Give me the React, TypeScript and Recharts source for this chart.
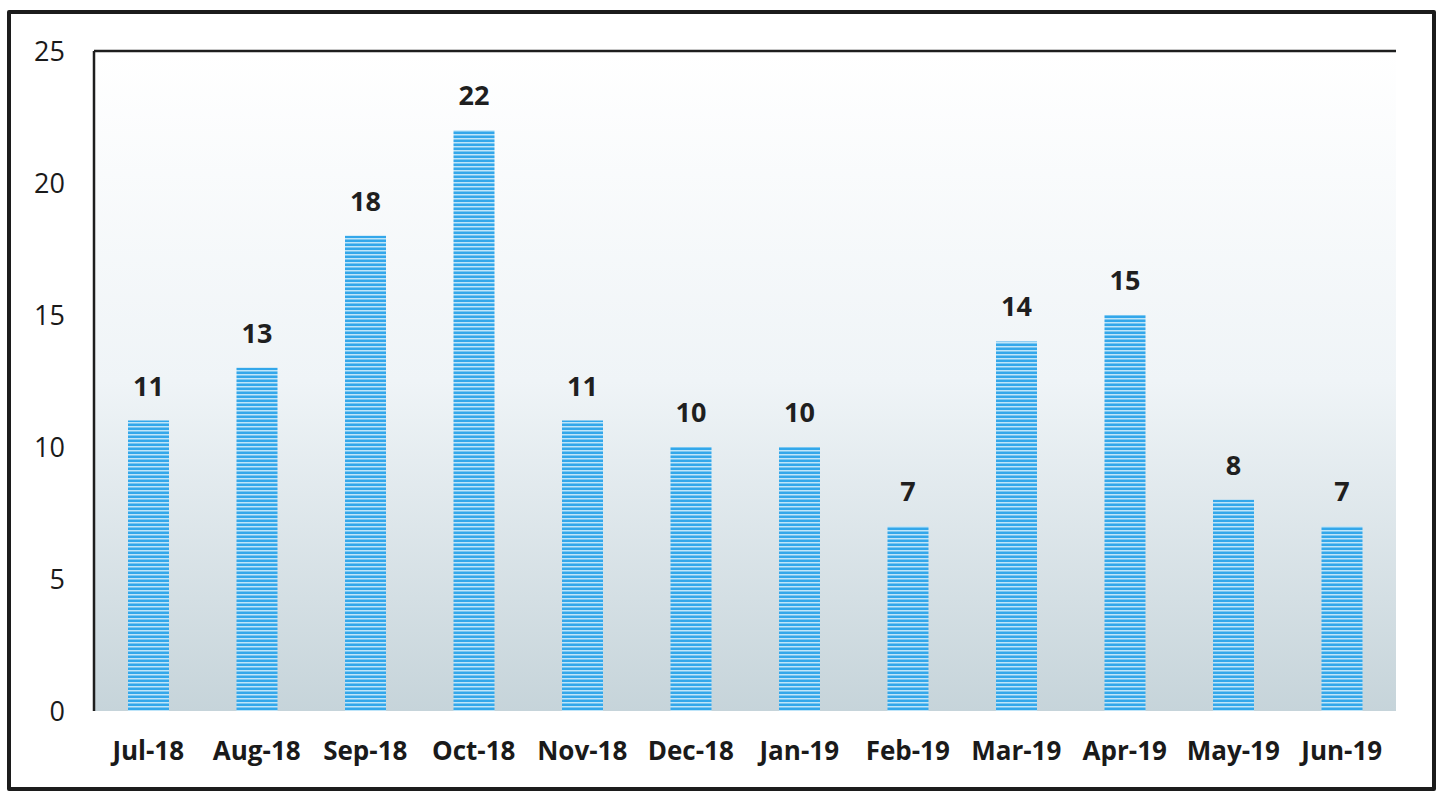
import React from 'react';
import { BarChart, Bar, XAxis, YAxis, CartesianGrid, LabelList, ReferenceLine } from 'recharts';

const months = ['Jul-18', 'Aug-18', 'Sep-18', 'Oct-18', 'Nov-18', 'Dec-18', 'Jan-19', 'Feb-19', 'Mar-19', 'Apr-19', 'May-19', 'Jun-19'];
const counts = [11, 13, 18, 22, 11, 10, 10, 7, 14, 15, 8, 7];
const yTicks = [0, 5, 10, 15, 20, 25];

const data = months.map((m, i) => ({ month: m, count: counts[i] }));

const FONT = '"Open Sans", "Liberation Sans", sans-serif';

export default function App() {
  return (
    <div style={{ position: 'absolute', left: 0, top: 0, width: 1442, height: 794, background: '#fff' }}>
      {/* outer frame */}
      <div
        style={{
          position: 'absolute',
          left: 7,
          top: 10,
          width: 1429,
          height: 781,
          boxSizing: 'border-box',
          border: '4px solid #1c1c1c',
          borderRadius: 2,
        }}
      />
      <div style={{ position: 'absolute', left: 0, top: 0 }}>
        <BarChart
          width={1442}
          height={794}
          data={data}
          margin={{ top: 51, right: 46, bottom: 0, left: 0 }}
          barSize={41}
        >
          <defs>
            <linearGradient id="plotBg" x1="0" y1="0" x2="0" y2="1">
              <stop offset="0%" stopColor="#ffffff" />
              <stop offset="50%" stopColor="#eff4f7" />
              <stop offset="100%" stopColor="#c6d4da" />
            </linearGradient>
            <pattern id="stripes" patternUnits="userSpaceOnUse" width="8" height="4">
              <rect x="0" y="0" width="8" height="4" fill="#33a7ea" />
              <rect x="0" y="2" width="8" height="1.5" fill="#bfe5f9" />
            </pattern>
          </defs>
          <CartesianGrid horizontal={false} vertical={false} fill="url(#plotBg)" stroke="none" />
          <XAxis
            dataKey="month"
            axisLine={false}
            tickLine={false}
            tickSize={0}
            tickMargin={31}
            height={83}
            interval={0}
            tick={{ fill: '#1a1a1a', fontSize: 26, fontWeight: 700, fontFamily: FONT }}
          />
          <YAxis
            domain={[0, 25]}
            ticks={yTicks}
            width={94}
            axisLine={{ stroke: '#1e1e1e', strokeWidth: 2.5 }}
            tickLine={false}
            tickSize={0}
            tickMargin={29}
            tick={{ fill: '#1a1a1a', fontSize: 27, fontFamily: FONT }}
          />
          <YAxis
            yAxisId="right"
            orientation="right"
            domain={[0, 25]}
            width={0}
            tick={false}
            tickLine={false}
            axisLine={{ stroke: '#1e1e1e', strokeWidth: 2.5 }}
          />
          <ReferenceLine y={25} stroke="#1e1e1e" strokeWidth={2.5} />
          <Bar dataKey="count" fill="url(#stripes)" isAnimationActive={false}>
            <LabelList
              dataKey="count"
              position="top"
              offset={25}
              style={{ fill: '#1f1f1f', fontSize: 27, fontWeight: 700, fontFamily: FONT }}
            />
          </Bar>
        </BarChart>
      </div>
    </div>
  );
}
